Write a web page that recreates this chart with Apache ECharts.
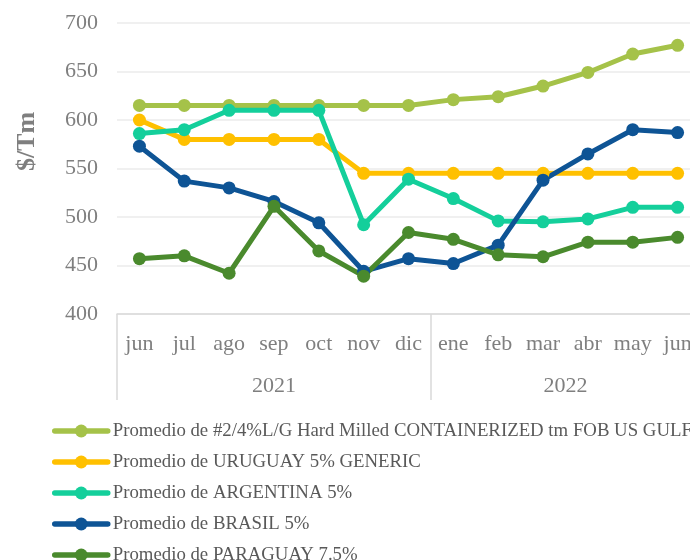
<!DOCTYPE html>
<html>
<head>
<meta charset="utf-8">
<script src="https://cdn.jsdelivr.net/npm/echarts@6/dist/echarts.min.js"></script>
<style>
    html, body { margin: 0; padding: 0; background: #fff; }
    #chart { width: 690px; height: 560px; }
</style>
</head>
<body>
<div id="chart"></div>
<script>
// month categories and year groups (7 months in 2021, 6 in 2022)
const months = ['jun', 'jul', 'ago', 'sep', 'oct', 'nov', 'dic', 'ene', 'feb', 'mar', 'abr', 'may', 'jun']
const years = ['2021', '2022']
const monthsPerYear = [7, 6]

const seriesNames = [
    'Promedio de #2/4%L/G Hard Milled CONTAINERIZED tm FOB US GULF',
    'Promedio de URUGUAY 5% GENERIC',
    'Promedio de ARGENTINA 5%',
    'Promedio de BRASIL 5%',
    'Promedio de PARAGUAY 7.5%',
]

const usGulf = [615, 615, 615, 615, 615, 615, 615, 621, 624, 635, 649, 668, 677]
const uruguay = [600, 580, 580, 580, 580, 545, 545, 545, 545, 545, 545, 545, 545]
const argentina = [586, 590, 610, 610, 610, 492, 539, 519, 496, 495, 498, 510, 510]
const brasil = [573, 537, 530, 516, 494, 444, 457, 452, 471, 538, 565, 590, 587]
const paraguay = [457, 460, 442, 511, 465, 439, 484, 477, 461, 459, 474, 474, 479]

const colors = ['#A5C249', '#FFC000', '#14CF9B', '#0E5495', '#4A8A2D']

const font = '"Liberation Serif", "Times New Roman", serif'

// boundaries and centers of the year groups, in band units
const yearEdges = [0]
monthsPerYear.forEach(n => yearEdges.push(yearEdges[yearEdges.length - 1] + n))
const yearCenters = years.map((_, i) => (yearEdges[i] + yearEdges[i + 1]) / 2)

const chart = echarts.init(document.getElementById('chart'))

chart.setOption({
    color: colors,
    animation: false,
    grid: {
        left: 117,
        right: -10,
        top: 23,
        bottom: 246,
        outerBoundsMode: 'none',
    },
    legend: {
        orient: 'vertical',
        left: 52,
        top: 421,
        height: 200,
        padding: 0,
        itemWidth: 53,
        itemHeight: 16,
        itemGap: 11,
        lineStyle: { width: 5.5, cap: 'round' },
        textStyle: {
            fontFamily: font,
            fontSize: 18.8,
            color: '#595959',
            lineHeight: 20,
        },
        data: seriesNames,
    },
    xAxis: [
        {
            type: 'category',
            data: months,
            boundaryGap: true,
            axisLine: { lineStyle: { color: '#D9D9D9', width: 1.5 } },
            axisTick: { show: false },
            axisLabel: {
                fontFamily: font,
                fontSize: 22,
                color: '#7F7F7F',
                margin: 19,
                interval: 0,
            },
        },
        {
            type: 'value',
            position: 'bottom',
            min: 0,
            max: months.length,
            axisLine: { show: false },
            splitLine: { show: false },
            axisTick: {
                show: true,
                customValues: yearEdges,
                length: 86,
                lineStyle: { color: '#D9D9D9', width: 1.5 },
            },
            axisLabel: {
                customValues: yearCenters,
                formatter: v => years[yearCenters.indexOf(v)],
                fontFamily: font,
                fontSize: 22,
                color: '#7F7F7F',
                margin: 61,
            },
        },
    ],
    yAxis: {
        type: 'value',
        min: 400,
        max: 700,
        interval: 50,
        name: '$/Tm',
        nameLocation: 'middle',
        nameGap: 77,
        nameTextStyle: {
            fontFamily: font,
            fontSize: 26,
            fontWeight: 'bold',
            color: '#7F7F7F',
            padding: [0, 0, 0, 54],
        },
        axisLine: { show: false },
        axisTick: { show: false },
        splitLine: { lineStyle: { color: '#EBEBEB', width: 1.5 } },
        axisLabel: {
            fontFamily: font,
            fontSize: 22,
            color: '#7F7F7F',
            margin: 19,
        },
    },
    series: [usGulf, uruguay, argentina, brasil, paraguay].map((values, i) => ({
        name: seriesNames[i],
        type: 'line',
        xAxisIndex: 0,
        data: values,
        symbol: 'circle',
        symbolSize: 13,
        lineStyle: { width: 5 },
    })),
})
</script>
</body>
</html>
